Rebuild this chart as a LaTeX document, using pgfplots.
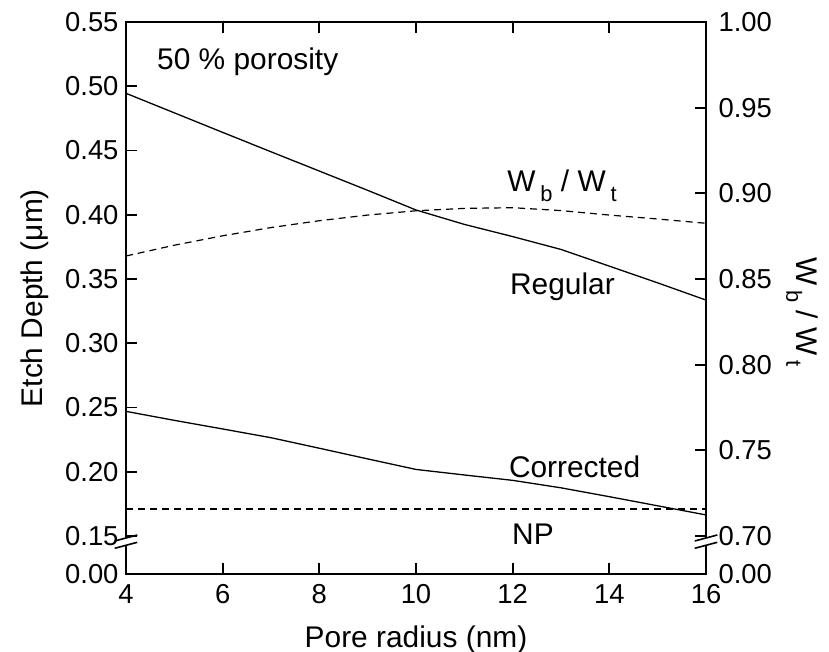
\documentclass[border=0pt]{standalone}
\usepackage{fontspec}
\setmainfont{Liberation Sans}
\usepackage{pgfplots}
\pgfplotsset{compat=1.18}
\begin{document}
\begin{tikzpicture}
\pgfplotsset{
  common/.style={
    scale only axis, width=580bp, height=552.3bp,
    at={(0,0)}, anchor=south west,
    xmin=4, xmax=16,
    /pgf/number format/assume math mode=true,
    tick label style={font=\fontsize{27.5}{32}\selectfont},
    label style={font=\fontsize{30}{36}\selectfont},
    axis line style={line width=2.2bp},
  }
}
\begin{axis}[common,
  ymin=0.1202, ymax=0.55,
  xtick={4,6,...,16},
  xtick pos=both,
  xticklabel pos=lower,
  xticklabel style={yshift=-7bp},
  ytick={0.1202,0.15,0.20,0.25,0.30,0.35,0.40,0.45,0.50,0.55},
  yticklabels={0.00,0.15,0.20,0.25,0.30,0.35,0.40,0.45,0.50,0.55},
  ytick pos=left,
  yticklabel style={xshift=-4bp},
  xlabel={Pore radius (nm)},
  xlabel style={at={(axis description cs:0.5,-0.118)}, anchor=center},
  ylabel={Etch Depth (μm)},
  ylabel style={at={(axis description cs:-0.157,0.5)}, anchor=center},
  xtick align=inside, ytick align=inside,
  major tick length=11bp,
  xtick style={line width=1.8bp, black},
  ytick style={line width=1.8bp, black},
]
\addplot[black, line width=1.3bp] coordinates {(4,0.4945)(5,0.4793)(6,0.4641)(7,0.4490)(8,0.4340)(9,0.4190)(10,0.4037)(11,0.3925)(12,0.3830)(13,0.3730)(14,0.3600)(15,0.3470)(16,0.3336)};
\addplot[black, line width=1.3bp] coordinates {(4,0.2470)(5,0.2400)(6,0.2333)(7,0.2265)(8,0.2183)(9,0.2100)(10,0.2018)(11,0.1975)(12,0.1933)(13,0.1875)(14,0.1806)(15,0.1735)(16,0.1664)};
\addplot[black, line width=1.2bp, dash pattern=on 7bp off 5bp] coordinates {(4,0.171)(16,0.171)};
\node[anchor=base west, inner sep=0, font=\fontsize{30}{36}\selectfont] at (rel axis cs:0.0534,0.9144) {50 \% porosity};
\node[anchor=base west, inner sep=0, font=\fontsize{30}{36}\selectfont] at (rel axis cs:0.657,0.6922) {W\,\raisebox{-10bp}{\fontsize{22}{26}\selectfont b} / W\,\raisebox{-10bp}{\fontsize{22}{26}\selectfont t}};
\node[anchor=base west, inner sep=0, font=\fontsize{30}{36}\selectfont] at (rel axis cs:0.662,0.5057) {Regular};
\node[anchor=base west, inner sep=0, font=\fontsize{30}{36}\selectfont] at (rel axis cs:0.660,0.1749) {Corrected};
\node[anchor=base west, inner sep=0, font=\fontsize{30}{36}\selectfont] at (rel axis cs:0.6655,0.0543) {NP};
\end{axis}
\begin{axis}[common,
  ymin=0.6776, ymax=1.00,
  xtick=\empty,
  ytick={0.6776,0.70,0.75,0.80,0.85,0.90,0.95,1.00},
  yticklabels={0.00,0.70,0.75,0.80,0.85,0.90,0.95,1.00},
  ytick pos=right,
  yticklabel style={xshift=9bp},
  ylabel={W\,\raisebox{-10bp}{\fontsize{22}{26}\selectfont b} / W\,\raisebox{-10bp}{\fontsize{22}{26}\selectfont t}},
  ylabel style={at={(axis description cs:1.1655,0.475)}, anchor=center, rotate=180},
  ytick align=inside,
  major tick length=11bp,
  ytick style={line width=1.8bp, black},
]
\addplot[black, line width=1.2bp, dash pattern=on 7bp off 5bp] coordinates {(4,0.8634)(5,0.8697)(6,0.8752)(7,0.8800)(8,0.8840)(9,0.8873)(10,0.8898)(11,0.8912)(12,0.8916)(13,0.8899)(14,0.8873)(15,0.8850)(16,0.8825)};
\coordinate (bl) at (rel axis cs:0,0);
\coordinate (br) at (rel axis cs:1,0);
\end{axis}
\foreach \c in {bl,br}{
  \fill[white] ([xshift=-2.5bp,yshift=29bp]\c) rectangle ([xshift=2.5bp,yshift=36.3bp]\c);
  \draw[line width=1.6bp] ([xshift=-11.3bp,yshift=33.3bp]\c) -- ++(22.6bp,6bp);
  \draw[line width=1.6bp] ([xshift=-11.3bp,yshift=26bp]\c) -- ++(22.6bp,6bp);
}
\pgfresetboundingbox
\path[use as bounding box] (-126bp,-77.7bp) rectangle (703bp,574.3bp);
\end{tikzpicture}
\end{document}
